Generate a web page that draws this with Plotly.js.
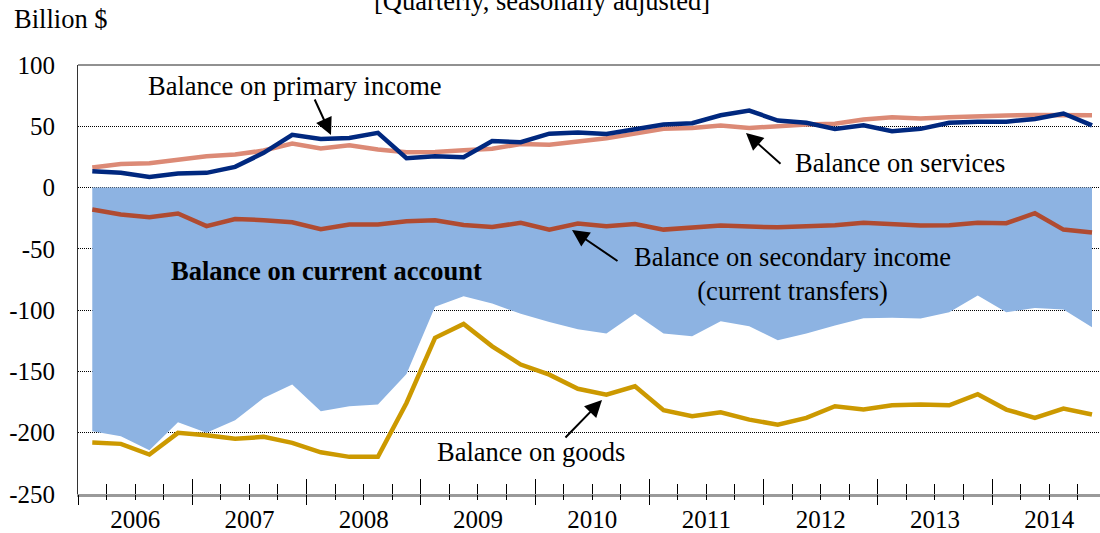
<!DOCTYPE html>
<html>
<head>
<meta charset="utf-8">
<script src="https://cdn.plot.ly/plotly-3.0.1.min.js"></script>
<style>
  html, body { margin: 0; padding: 0; background: #fff; }
  #chart { width: 1100px; height: 533px; }
</style>
</head>
<body>
<div id="chart"></div>
<script>
// ---- data (billion $, quarterly, seasonally adjusted) ----
const years = ['2006', '2007', '2008', '2009', '2010', '2011', '2012', '2013', '2014'];
const quarterNames = ['Q1', 'Q2', 'Q3', 'Q4'];

const currentAccount = [-198.8, -202.9, -214.3, -191.5, -200.1, -189.8, -171.6, -160.7, -182.5, -178.4, -177.0, -152.0,
  -97.3, -88.7, -94.6, -103.0, -109.6, -115.5, -119.1, -103.0, -119.1, -121.3, -109.1, -113.1,
  -124.6, -119.1, -112.6, -106.6, -106.3, -106.9, -101.7, -88.1, -101.7, -98.2, -99.5, -114.0];

const goods = [-208.0, -209.1, -217.8, -200.1, -202.1, -205.0, -203.4, -208.3, -216.0, -219.7, -219.7, -175.7,
  -122.6, -111.2, -129.5, -144.4, -152.6, -164.2, -168.9, -162.1, -181.7, -186.6, -183.3, -189.3,
  -193.4, -187.9, -178.4, -181.1, -177.6, -177.0, -177.6, -168.6, -181.1, -187.9, -180.3, -185.2];

const services = [16.3, 19.3, 19.8, 22.8, 25.6, 26.9, 30.2, 35.9, 31.8, 34.5, 31.0, 28.8,
  29.1, 30.4, 31.6, 35.6, 35.0, 37.5, 40.2, 44.0, 47.9, 48.7, 50.6, 48.7,
  50.3, 51.4, 52.0, 55.5, 57.4, 56.3, 57.4, 57.7, 58.7, 59.3, 58.7, 59.0];

const primaryIncome = [13.3, 12.0, 8.7, 11.4, 12.0, 16.9, 28.3, 43.0, 39.7, 40.5, 44.6, 24.0,
  25.6, 24.7, 38.0, 37.0, 44.0, 45.0, 43.8, 47.9, 51.4, 52.5, 59.0, 62.8,
  54.7, 52.8, 47.9, 50.8, 45.9, 47.9, 52.8, 53.8, 53.8, 56.0, 60.4, 50.8];

const secondaryIncome = [-17.9, -22.0, -24.2, -21.2, -31.5, -25.6, -26.6, -28.3, -34.0, -30.2, -30.2, -27.5,
  -26.6, -30.5, -32.1, -28.8, -34.3, -29.4, -31.5, -29.7, -34.3, -32.6, -31.0, -31.8,
  -32.4, -31.5, -30.7, -28.8, -29.9, -31.0, -30.7, -28.8, -29.1, -20.9, -34.3, -36.7];

const yTicks = [-250, -200, -150, -100, -50, 0, 50, 100];
const yTickText = ['-250', '-200', '-150', '-100', '-50', '0', '50', '100'];

// ---- derived positions ----
const quarters = [];
years.forEach(y => quarterNames.forEach(q => quarters.push(y + ' ' + q)));
const xs = quarters.map((q, i) => i);
const yearCenters = years.map((y, k) => 4 * k + 1.5);
const yearBounds = years.map((y, k) => 4 * k - 0.5);
const xRange = [-0.5, 35.28];

const FONT = 'Liberation Serif, Times New Roman, serif';
const LW = 4.5;

const traces = [
  { x: xs, y: currentAccount, text: quarters, type: 'scatter', mode: 'lines', fill: 'tozeroy',
    fillcolor: '#8DB3E2', line: { width: 0, color: '#8DB3E2' }, hoverinfo: 'text+y' },
  { x: xs, y: goods, text: quarters, type: 'scatter', mode: 'lines', line: { color: '#CC9900', width: LW } },
  { x: xs, y: secondaryIncome, text: quarters, type: 'scatter', mode: 'lines', line: { color: '#B04B31', width: LW } },
  { x: xs, y: services, text: quarters, type: 'scatter', mode: 'lines', line: { color: '#DC8A76', width: LW } },
  { x: xs, y: primaryIncome, text: quarters, type: 'scatter', mode: 'lines', line: { color: '#00287F', width: LW } },
  { x: [], y: [], xaxis: 'x2', type: 'scatter', showlegend: false },
  { x: [], y: [], xaxis: 'x3', type: 'scatter', showlegend: false }
];

// pixel -> paper helper (plot area: x 78..1100, y 65..494)
function P(px, py) { return { x: (px - 78) / 1022, y: (494 - py) / 429 }; }

function label(px, py, text, xanchor, extra) {
  const p = P(px, py);
  return Object.assign({ xref: 'paper', yref: 'paper', x: p.x, y: p.y, text: text, showarrow: false,
    xanchor: xanchor, yanchor: 'middle', font: { family: FONT, size: 26.5, color: '#000' } }, extra || {});
}
function arrow(hx, hy, tx, ty) {
  const p = P(hx, hy);
  return { xref: 'paper', yref: 'paper', x: p.x, y: p.y, text: '', showarrow: true,
    ax: tx - hx, ay: ty - hy, arrowhead: 2, arrowsize: 1.7, arrowwidth: 2, arrowcolor: '#000', standoff: 0 };
}

const annotations = [
  label(12, 19, 'Billion $', 'left'),
  label(542, 1, '[Quarterly, seasonally adjusted]', 'center'),
  label(146, 86, 'Balance on primary income', 'left'),
  arrow(331, 135, 314, 98),
  label(793, 163, 'Balance on services', 'left'),
  arrow(746, 133, 782, 165),
  label(169, 271, '<b>Balance on current account</b>', 'left'),
  label(792, 274, 'Balance on secondary income<br>(current transfers)', 'center', { align: 'center' }),
  arrow(572, 230, 619, 262),
  label(435, 452, 'Balance on goods', 'left'),
  arrow(602, 400, 564, 439)
];

const tickAxisBase = {
  overlaying: 'x', anchor: 'y', side: 'bottom', range: xRange, showgrid: false, zeroline: false,
  showline: false, showticklabels: false, tickmode: 'array', tickvals: yearBounds,
  tickcolor: '#000', tickwidth: 1, fixedrange: true
};

const layout = {
  width: 1100, height: 533,
  margin: { l: 78, r: 0, t: 65, b: 39, pad: 0 },
  paper_bgcolor: '#fff', plot_bgcolor: '#fff',
  font: { family: FONT, size: 25, color: '#000' },
  showlegend: false,
  xaxis: {
    range: xRange, tickmode: 'array', tickvals: yearCenters, ticktext: years, ticks: '',
    showgrid: false, zeroline: false, showline: true, linecolor: '#9a9a9a', linewidth: 3,
    tickfont: { family: FONT, size: 25, color: '#000' }, ticklabelstandoff: 1, fixedrange: true
  },
  xaxis2: Object.assign({}, tickAxisBase, {
    ticks: 'inside', ticklen: 15,
    minor: { ticks: 'inside', ticklen: 10, tickmode: 'linear', tick0: -0.5, dtick: 1, tickcolor: '#000', tickwidth: 1, showgrid: false }
  }),
  xaxis3: Object.assign({}, tickAxisBase, {
    ticks: 'outside', ticklen: 10,
    minor: { ticks: 'outside', ticklen: 5, tickmode: 'linear', tick0: -0.5, dtick: 1, tickcolor: '#000', tickwidth: 1, showgrid: false }
  }),
  yaxis: {
    range: [-250, 100], tickmode: 'array', tickvals: yTicks, ticktext: yTickText, ticks: '',
    showgrid: true, gridcolor: '#000', gridwidth: 1, griddash: '1px,1px',
    zeroline: false, showline: true, linecolor: '#333', linewidth: 1,
    tickfont: { family: FONT, size: 25, color: '#000' }, ticklabelstandoff: 17, fixedrange: true
  },
  shapes: [
    { type: 'line', xref: 'paper', yref: 'paper', x0: 0, x1: 1, y0: 1, y1: 1, line: { color: '#222', width: 1 } }
  ],
  annotations: annotations
};

Plotly.newPlot('chart', traces, layout, { displayModeBar: false, staticPlot: true });
</script>
</body>
</html>
